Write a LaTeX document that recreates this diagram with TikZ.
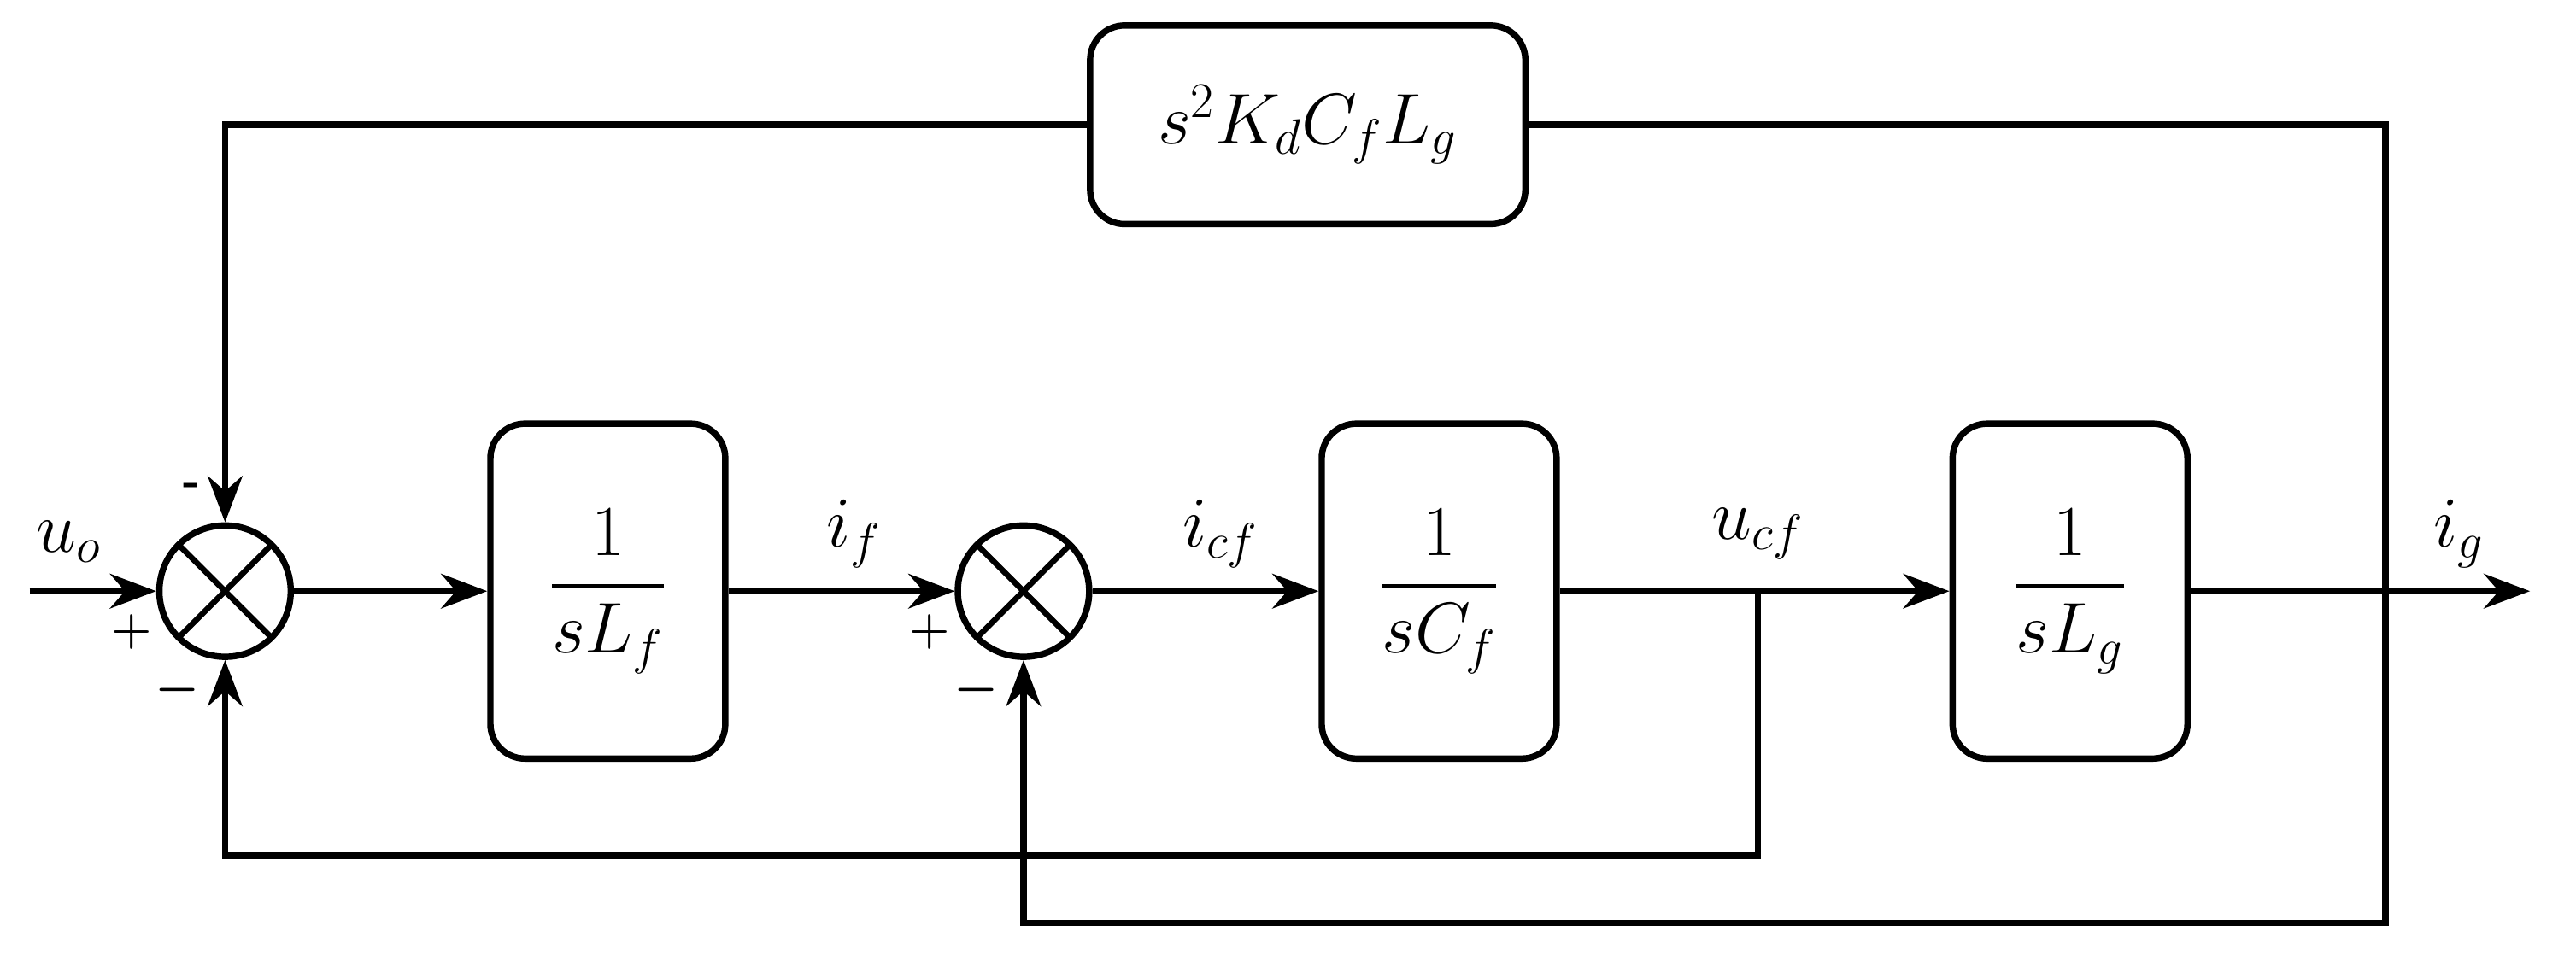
\documentclass[tikz,border=0pt]{standalone}
\usepackage{amsmath,bm}
\usetikzlibrary{arrows.meta}
\tikzset{
  blk/.style={draw, line width=2.2pt, rounded corners=12pt, minimum width=2.86cm, minimum height=4.08cm, font=\fontsize{26}{30}\selectfont},
  sumnode/.style={draw, circle, line width=2.2pt, minimum size=1.6cm, inner sep=0pt,
    path picture={\draw[line width=2pt] (path picture bounding box.north west) -- (path picture bounding box.south east)
      (path picture bounding box.north east) -- (path picture bounding box.south west);}},
  sig/.style={line width=2.2pt, -{Stealth[length=16pt,width=12pt]}},
  lbl/.style={font=\fontsize{24}{28}\selectfont},
  sgn/.style={font=\bfseries\fontsize{16}{18}\selectfont}
}
\begin{document}
\begin{tikzpicture}[x=0.02cm,y=-0.02cm]
	   \useasboundingbox (0,0) rectangle (1568,584);
	   % summing junctions
	   \node [sumnode] (sum1) at (137,360) {};
	   \node [sumnode] (sum2) at (623,360) {};
	   % blocks
	   \node [blk] (lf) at (370,360) {$\dfrac{1}{sL_f}$};
	   \node [blk] (cf) at (876,360) {$\dfrac{1}{sC_f}$};
	   \node [blk] (lg) at (1260,360) {$\dfrac{1}{sL_g}$};
	   \node [blk, minimum width=5.3cm, minimum height=2.42cm] (kd) at (796,76) {$s^2K_dC_fL_g$};
	   \coordinate (in) at (18,360);
	   \coordinate (out) at (1540,360);
	   \coordinate (ucf) at (1070,360);
	   \coordinate (ig) at (1452,360);
	   % forward path
	   \draw [sig] (in) -- (sum1);
	   \draw [sig] (sum1) -- (lf);
	   \draw [sig] (lf) -- (sum2);
	   \draw [sig] (sum2) -- (cf);
	   \draw [sig] (cf) -- (lg);
	   \draw [sig] (lg) -- (out);
	   % feedback paths
	   \draw [sig] (ucf) -- (1070,521) -| (sum1.south);
	   \draw [sig] (ig) -- (1452,562) -| (sum2.south);
	   \draw [line width=2.2pt] (ig) |- (kd.east);
	   \draw [sig] (kd.west) -| (sum1.north);
	   % labels
	   \node [lbl] at (42,330) {$u_o$};
	   \node [lbl] at (520,325) {$i_f$};
	   \node [lbl] at (743,325) {$i_{cf}$};
	   \node [lbl] at (1070,325) {$u_{cf}$};
	   \node [lbl] at (1497,325) {$i_g$};
	   \node [sgn] at (80,385) {+};
	   \node [sgn] at (117,298) {-};
	   \node [sgn] at (108,420) {$\bm{-}$};
	   \node [sgn] at (566,385) {+};
	   \node [sgn] at (594,420) {$\bm{-}$};
\end{tikzpicture}
\end{document}
